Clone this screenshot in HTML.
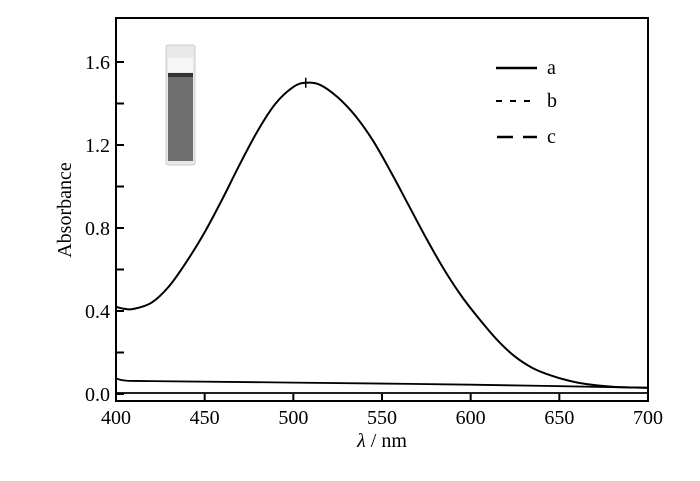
<!DOCTYPE html>
<html><head><meta charset="utf-8"><style>
html,body{margin:0;padding:0;background:#fff;}
svg{display:block;font-family:"Liberation Serif",serif;}
</style></head><body>
<svg id="chart" width="700" height="481" viewBox="0 0 700 481">
<rect x="116" y="18" width="532" height="383" fill="none" stroke="#000" stroke-width="2"/>
<g id="ticks"></g>
<g id="series"></g>
<g>
<rect x="166" y="45" width="29" height="120" rx="2" fill="#e8e8e8" stroke="#ccc"/>
<rect x="168" y="73" width="25" height="88" fill="#6e6e6e"/>
<rect x="168" y="73" width="25" height="4" fill="#333"/>
<rect x="168" y="58" width="25" height="14" fill="#f6f6f6"/>
</g>
<g font-size="20">
<line x1="496" y1="68" x2="537" y2="68" stroke="#000" stroke-width="2.5"/>
<text x="547" y="74">a</text>
<line x1="496" y1="101" x2="537" y2="101" stroke="#000" stroke-width="2" stroke-dasharray="6,8"/>
<text x="547" y="107">b</text>
<line x1="497" y1="137" x2="537" y2="137" stroke="#000" stroke-width="2.5" stroke-dasharray="16,10"/>
<text x="547" y="143">c</text>
</g>
<text x="0" y="0" font-size="20" text-anchor="middle" transform="translate(71,210) rotate(-90)">Absorbance</text>
<text x="382" y="447" font-size="20" text-anchor="middle"><tspan font-style="italic">λ</tspan> / nm</text>
</svg>
<script>
const xTicks=[400,450,500,550,600,650,700];
const yTicks=[0.0,0.4,0.8,1.2,1.6];
const yMinor=[0.2,0.6,1.0,1.4];
const wlA=[400,405,410,420,430,440,450,460,470,480,490,500,507,515,525,535,545,555,565,575,585,595,605,615,625,635,645,655,665,680,700];
const absA=[0.42,0.41,0.41,0.44,0.52,0.64,0.78,0.94,1.11,1.27,1.40,1.48,1.50,1.49,1.43,1.34,1.22,1.07,0.91,0.75,0.60,0.47,0.36,0.26,0.18,0.125,0.09,0.065,0.048,0.035,0.03];
const wlB=[400,405,420,500,600,700];
const absB=[0.075,0.065,0.062,0.055,0.045,0.03];
const wlC=[400,700];
const absC=[0.005,0.005];
const NS='http://www.w3.org/2000/svg';
const X=v=>116+(v-400)*(532/300);
const Y=v=>394-v*(332/1.6);
const tg=document.getElementById('ticks'), sg=document.getElementById('series');
function mk(t,a,p){const e=document.createElementNS(NS,t);for(const k in a)e.setAttribute(k,a[k]);p.appendChild(e);return e;}
xTicks.forEach(v=>{
 const l=mk('line',{x1:X(v),x2:X(v),y1:401,y2:394,stroke:'#000','stroke-width':2},tg);
 
 
 const t=mk('text',{x:X(v),y:424,'font-size':20,'text-anchor':'middle'},tg);t.textContent=v;
 
 
});
yTicks.forEach(v=>{
 const l=mk('line',{x1:116,x2:124,y1:Y(v),y2:Y(v),stroke:'#000','stroke-width':2},tg);
 
 
 const t=mk('text',{x:110,y:Y(v)+7,'font-size':20,'text-anchor':'end'},tg);t.textContent=v.toFixed(1);
 
 
});
yMinor.forEach(v=>{
 const l=mk('line',{x1:116,x2:124,y1:Y(v),y2:Y(v),stroke:'#000','stroke-width':2},tg);
 
 
});
function path(xs,ys,name,w){
 const pts=xs.map((x,i)=>[X(x),Y(ys[i])]);
 let d='M'+pts[0][0].toFixed(1)+','+pts[0][1].toFixed(1);
 for(let i=0;i<pts.length-1;i++){
  const p0=pts[Math.max(0,i-1)],p1=pts[i],p2=pts[i+1],p3=pts[Math.min(pts.length-1,i+2)];
  const c1=[p1[0]+(p2[0]-p0[0])/6,p1[1]+(p2[1]-p0[1])/6],c2=[p2[0]-(p3[0]-p1[0])/6,p2[1]-(p3[1]-p1[1])/6];
  d+=' C'+c1.map(n=>n.toFixed(1))+' '+c2.map(n=>n.toFixed(1))+' '+p2.map(n=>n.toFixed(1));
 }
 const p=mk('path',{d:d,fill:'none',stroke:'#000','stroke-width':w,'stroke-linejoin':'round'},sg);
 
 
}
path(wlA,absA,'series-a-line',2);
path(wlB,absB,'series-b-line',1.8);
path(wlC,absC,'series-c-line',1.8);
const pk=mk('line',{x1:X(507),x2:X(507),y1:Y(1.5)-5,y2:Y(1.5)+5,stroke:'#000','stroke-width':1.5},sg);


</script>
</body></html>
